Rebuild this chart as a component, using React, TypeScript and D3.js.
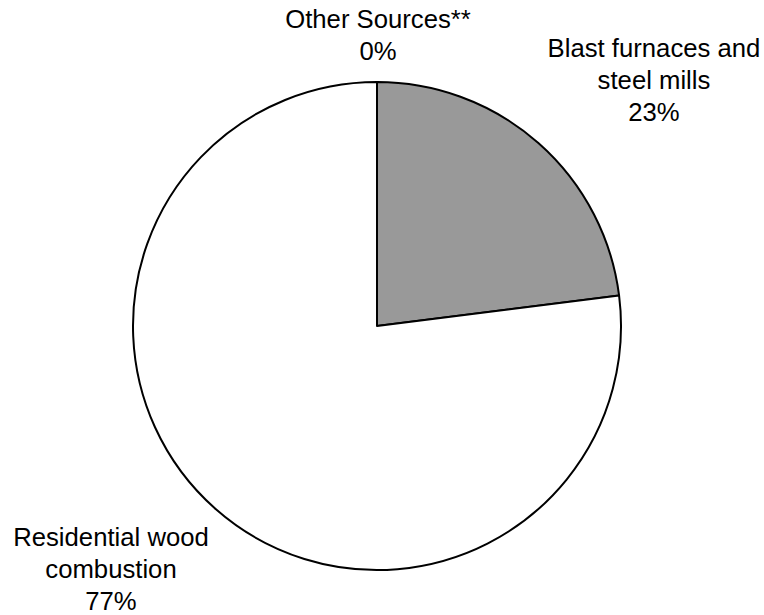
import * as d3 from "d3";

const categories = ["Other Sources**", "Blast furnaces and steel mills", "Residential wood combustion"];
const shares = [0, 23, 77];
const labelLines = [
  ["Other Sources**", "0%"],
  ["Blast furnaces and", "steel mills", "23%"],
  ["Residential wood", "combustion", "77%"],
];
const fills = ["#999999", "#999999", "#ffffff"];

const width = 764;
const height = 615;
const cx = 377;
const cy = 326;
const radius = 244;
const fontSize = 25.7;
const lineGap = 32;

// label block anchors (centre x, first baseline) in Excel-like outside positions
const labelAnchors: [number, number][] = [
  [378, 28],
  [654, 57],
  [111, 546],
];

const App = () => {
  const pie = d3
    .pie<number>()
    .sort(null)
    .value((d) => d)
    .startAngle(0)
    .endAngle(2 * Math.PI);
  const arcs = pie(shares);
  const arc = d3.arc<d3.PieArcDatum<number>>().innerRadius(0).outerRadius(radius);

  return (
    <svg
      width={width}
      height={height}
      style={{ position: "absolute", left: 0, top: 0, background: "#fff" }}
      fontFamily="'Liberation Sans', Arial, sans-serif"
    >
      <g transform={`translate(${cx},${cy})`}>
        {arcs.map((a, i) =>
          a.endAngle - a.startAngle > 0 ? (
            <path
              key={categories[i]}
              d={arc(a) ?? ""}
              fill={fills[i]}
              stroke="#000"
              strokeWidth={2}
              strokeLinejoin="round"
            />
          ) : null
        )}
      </g>
      {labelLines.map((lines, i) => (
        <text
          key={categories[i]}
          textAnchor="middle"
          fontSize={fontSize}
          fill="#000"
        >
          {lines.map((ln, j) => (
            <tspan key={j} x={labelAnchors[i][0]} y={labelAnchors[i][1] + j * lineGap}>
              {ln}
            </tspan>
          ))}
        </text>
      ))}
    </svg>
  );
};

export default App;
